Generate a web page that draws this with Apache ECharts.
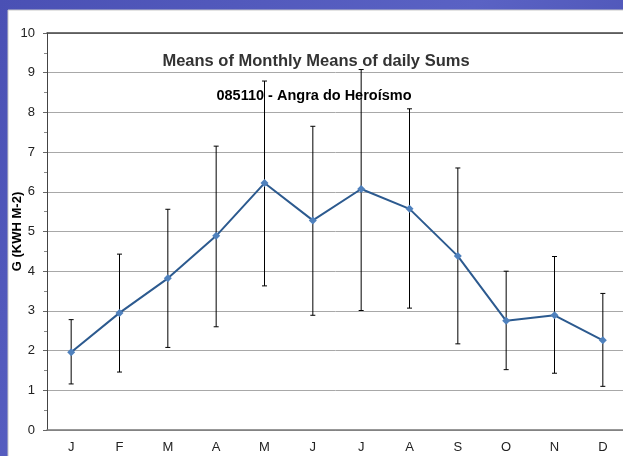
<!DOCTYPE html>
<html>
<head>
<meta charset="utf-8">
<script src="https://cdn.jsdelivr.net/npm/echarts@6/dist/echarts.min.js"></script>
<style>
  html, body { margin: 0; padding: 0; }
  #chart { width: 623px; height: 456px; }
</style>
</head>
<body>
<div id="chart"></div>
<script>
var months = ['J', 'F', 'M', 'A', 'M', 'J', 'J', 'A', 'S', 'O', 'N', 'D']
var means = [1.96, 2.95, 3.82, 4.89, 6.22, 5.28, 6.07, 5.57, 4.38, 2.75, 2.89, 2.26]
var errHigh = [2.78, 4.43, 5.56, 7.15, 8.79, 7.65, 9.08, 8.09, 6.60, 4.00, 4.37, 3.44]
var errLow = [1.16, 1.46, 2.08, 2.60, 3.63, 2.89, 3.01, 3.07, 2.17, 1.52, 1.43, 1.10]

var errData = months.map(function (m, i) { return [i, errLow[i], errHigh[i]] })

var chart = echarts.init(document.getElementById('chart'))
chart.setOption({
  backgroundColor: {
    type: 'linear', x: 0, y: 0, x2: 1, y2: 1,
    colorStops: [{ offset: 0, color: '#4a50b4' }, { offset: 0.5, color: '#5a62c4' }, { offset: 1, color: '#3f46a8' }]
  },
  graphic: [{
    type: 'rect',
    z: -10,
    shape: { x: 8, y: 10, width: 620, height: 450 },
    style: { fill: '#ffffff', stroke: '#c8c8c8', lineWidth: 1 }
  }],
  title: [{
    text: 'Means of Monthly Means of daily Sums',
    left: 311,
    top: 48,
    textAlign: 'center',
    textStyle: { fontFamily: 'Liberation Sans', fontSize: 16.5, fontWeight: 'bold', color: '#333333' }
  }, {
    text: '085110 - Angra do Heroísmo',
    left: 309,
    top: 83,
    textAlign: 'center',
    textStyle: { fontFamily: 'Liberation Sans', fontSize: 14.5, fontWeight: 'bold', color: '#000000' }
  }],
  grid: { left: 47, right: -4, top: 33, bottom: 26, outerBoundsMode: 'none' },
  xAxis: [{
    type: 'category',
    data: months,
    axisLine: { lineStyle: { color: '#777777', width: 1.5 } },
    axisTick: { show: false },
    axisLabel: { fontFamily: 'Liberation Sans', fontSize: 13, color: '#222222', margin: 11 }
  }, {
    type: 'category',
    data: months,
    position: 'top',
    axisLine: { show: true, lineStyle: { color: '#444444', width: 1.5 } },
    axisTick: { show: false },
    axisLabel: { show: false }
  }],
  yAxis: {
    type: 'value',
    min: 0,
    max: 10,
    interval: 1,
    name: 'G (KWH M-2)',
    nameLocation: 'middle',
    nameGap: 23,
    nameMoveOverlap: false,
    nameTextStyle: { fontFamily: 'Liberation Sans', fontSize: 13, fontWeight: 'bold', color: '#000000' },
    axisLine: { show: true, lineStyle: { color: '#444444', width: 1 } },
    axisTick: { show: true, length: 4, lineStyle: { color: '#666666' } },
    minorTick: { show: true, splitNumber: 2, length: 3, lineStyle: { color: '#888888' } },
    splitLine: { lineStyle: { color: '#a8a8a8', width: 1 } },
    axisLabel: { fontFamily: 'Liberation Sans', fontSize: 13, color: '#222222', margin: 12 }
  },
  series: [{
    type: 'custom',
    data: errData,
    z: 1,
    renderItem: function (params, api) {
      var x = api.value(0)
      var lo = api.coord([x, api.value(1)])
      var hi = api.coord([x, api.value(2)])
      var cap = 2.5
      var st = { stroke: '#000000', lineWidth: 1 }
      return {
        type: 'group',
        children: [
          { type: 'line', shape: { x1: lo[0], y1: lo[1], x2: hi[0], y2: hi[1] }, style: st },
          { type: 'line', shape: { x1: lo[0] - cap, y1: lo[1], x2: lo[0] + cap, y2: lo[1] }, style: st },
          { type: 'line', shape: { x1: hi[0] - cap, y1: hi[1], x2: hi[0] + cap, y2: hi[1] }, style: st }
        ]
      }
    }
  }, {
    type: 'line',
    data: means,
    z: 3,
    symbol: 'diamond',
    symbolSize: 8,
    lineStyle: { color: '#2c5a8f', width: 2 },
    itemStyle: { color: '#4f81bd' }
  }]
})
</script>
</body>
</html>
